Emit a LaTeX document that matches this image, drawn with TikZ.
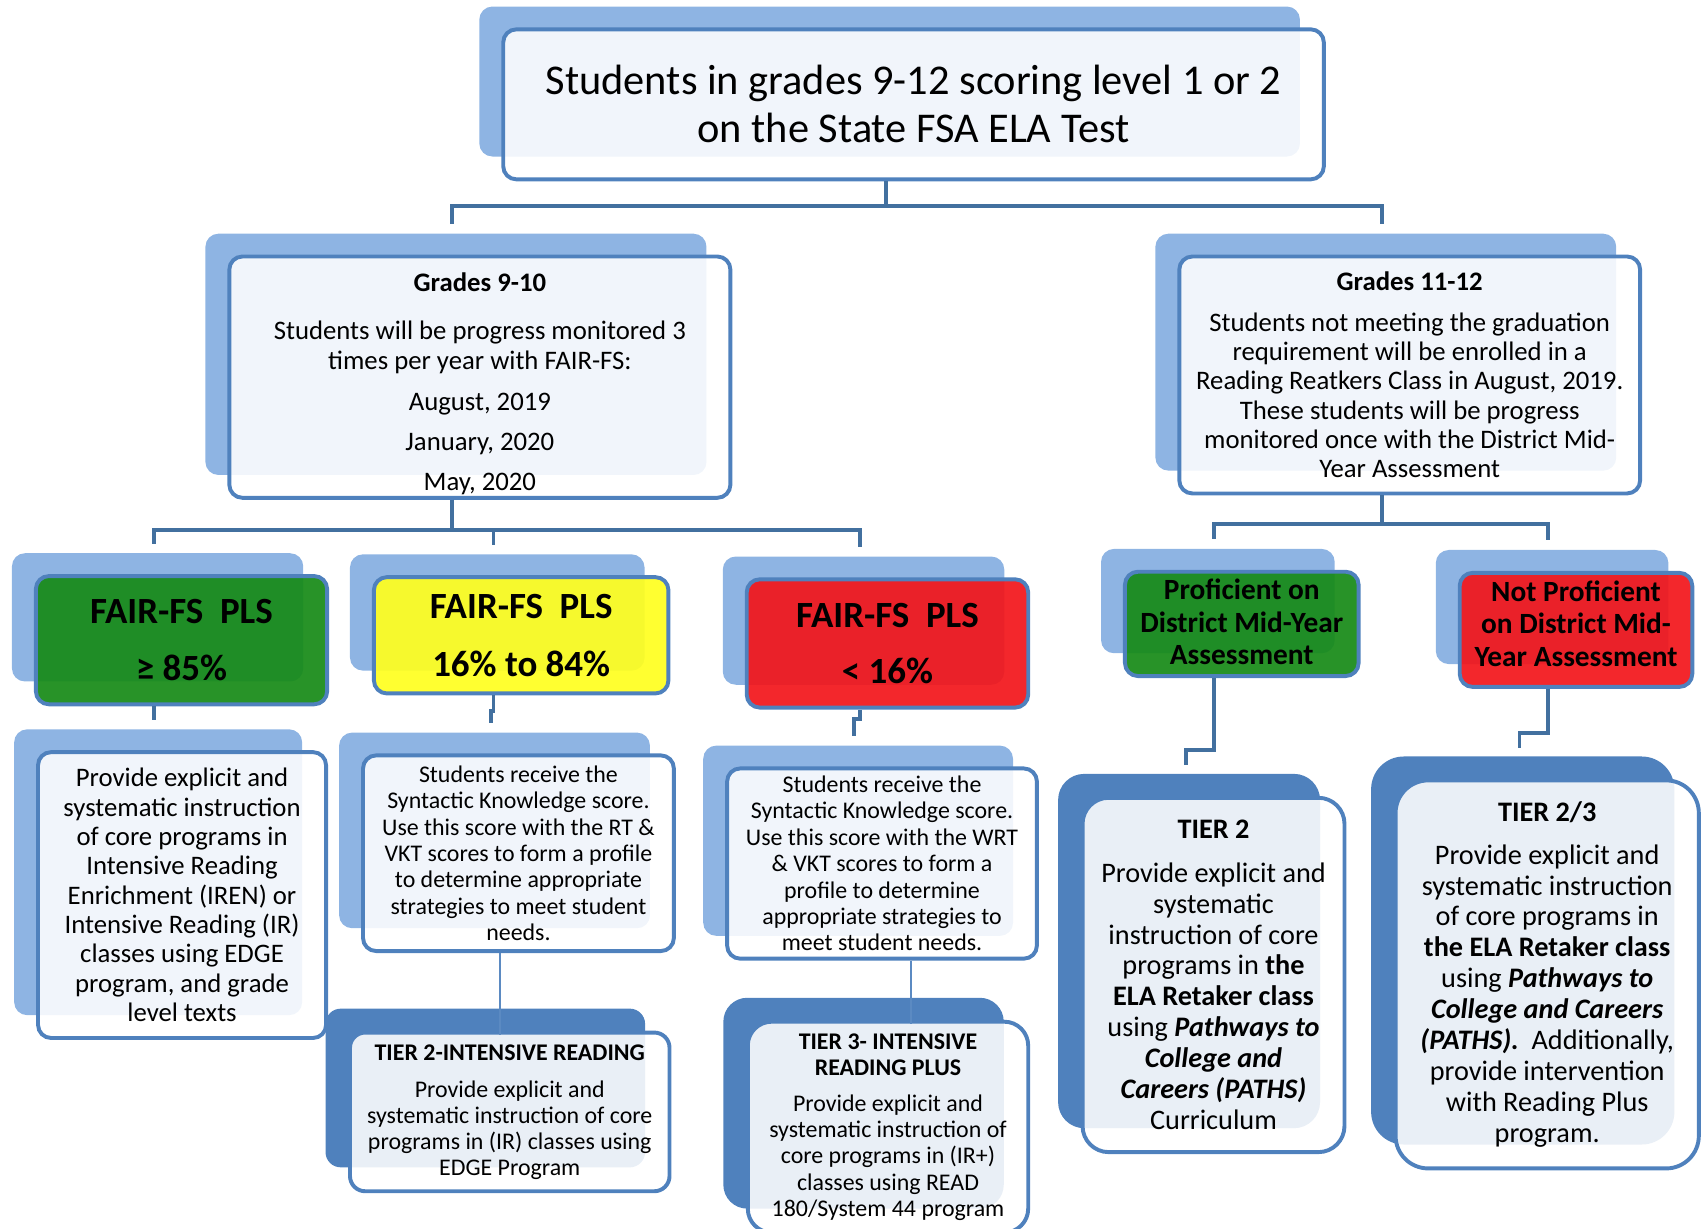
\documentclass[tikz,border=0pt]{standalone}
\usepackage{fontspec}
\setmainfont{Carlito}
\usetikzlibrary{shadows}

\definecolor{shadowlight}{HTML}{8EB4E3}
\definecolor{shadowdark}{HTML}{4F81BD}
\definecolor{boxblue}{HTML}{4F81BD}
\definecolor{linkblue}{HTML}{42709F}
\definecolor{thinblue}{HTML}{5B8AC2}
\definecolor{fairgreen}{HTML}{168A16}
\definecolor{fairyellow}{HTML}{FFFF1E}
\definecolor{fairred}{HTML}{F2151A}

\begin{document}
\begin{tikzpicture}[x=0.5pt, y=-0.5pt,
            basebox/.style={draw=boxblue, line width=1.8pt, rounded corners=6pt, fill=white, fill opacity=0.88,
            text opacity=1, text=black, align=center, inner sep=0pt},
            lightbox/.style={basebox, general shadow={fill=shadowlight, fill opacity=1, shadow xshift=-11pt, shadow yshift=10.5pt}},
            darkbox/.style={basebox, general shadow={fill=shadowdark, fill opacity=1, shadow xshift=-11.25pt, shadow yshift=11pt}},
            fairbox/.style={lightbox, fill=#1, fill opacity=0.92, text opacity=1},
            link/.style={draw=linkblue, line width=1.8pt},
            thinlink/.style={draw=thinblue, line width=0.7pt},
            titlefont/.style={font=\fontsize{19.5}{22}\selectfont},
            body/.style={font=\fontsize{12.3}{13.5}\selectfont},
            small/.style={font=\fontsize{11}{12.15}\selectfont},
            large/.style={font=\fontsize{13}{14.2}\selectfont},
            fairfont/.style={font=\fontsize{17}{20}\selectfont\bfseries},
            midfont/.style={font=\fontsize{13.5}{15}\selectfont\bfseries}]
            \useasboundingbox (0,0) rectangle (1565,1130);

            \node (title) [lightbox, minimum width=377.5pt, minimum height=69pt, titlefont] at (840.5,96)
            {Students in grades 9-12 scoring level 1 or 2\\on the State FSA ELA Test};

            \node (g910) [lightbox, minimum width=230.5pt, minimum height=111pt, body] at (441.5,347)
            {
                \rule{0pt}{15pt}\textbf{Grades 9-10}\\[8.5pt]
                Students will be progress monitored 3\\ times per year with FAIR-FS:\\[5.5pt]
                August, 2019\\[5pt] January, 2020\\[5pt] May, 2020
            };

            \node (g1112) [lightbox, minimum width=212pt, minimum height=109pt, body] at (1297,345)
            {
                \textbf{Grades 11-12}\\[5pt]
                Students not meeting the graduation\\ requirement will be enrolled in a\\
                Reading Reatkers Class in August, 2019.\\ These students will be progress\\
                monitored once with the District Mid-\\ Year Assessment
            };

            \node (fairhi) [fairbox=fairgreen, minimum width=134pt, minimum height=59pt, fairfont] at (167,589)
            {FAIR-FS\ \ PLS\\[6pt] ≥ 85\%};
            \node (fairmid) [fairbox=fairyellow, minimum width=135.5pt, minimum height=53.5pt, fairfont] at (479.5,584.5)
            {FAIR-FS\ \ PLS\\[6.5pt] 16\% to 84\%};
            \node (fairlo) [fairbox=fairred, minimum width=129.5pt, minimum height=59pt, fairfont] at (816.5,592)
            {FAIR-FS\ \ PLS\\[6pt] < 16\%};

            \node (prof) [fairbox=fairgreen, minimum width=107.5pt, minimum height=48pt, midfont] at (1142.5,574)
            {Proficient on\\ District Mid-Year\\ Assessment\rule[-2pt]{0pt}{2pt}};
            \node (notprof) [fairbox=fairred, minimum width=107pt, minimum height=52.5pt, midfont] at (1450,579.5)
            {Not Proficient\\ on District Mid-\\ Year Assessment\rule[-5.7pt]{0pt}{5.7pt}};

            \node (iren) [lightbox, minimum width=132.5pt, minimum height=131.5pt, body] at (167.5,823.5)
            {
                Provide explicit and\\ systematic instruction\\ of core programs in\\ Intensive Reading\\
                Enrichment (IREN) or\\ Intensive Reading (IR)\\ classes using EDGE\\ program, and grade\\ level texts
            };

            \node (skrt) [lightbox, minimum width=143pt, minimum height=90pt, small] at (477,785)
            {
                Students receive the\\ Syntactic Knowledge score.\\ Use this score with the RT \&\\
                VKT scores to form a profile\\ to determine appropriate\\ strategies to meet student\\ needs.
            };

            \node (skwrt) [lightbox, minimum width=142.5pt, minimum height=87.5pt, small] at (811.5,794.5)
            {
                Students receive the\\ Syntactic Knowledge score.\\ Use this score with the WRT\\
                \& VKT scores to form a\\ profile to determine\\ appropriate strategies to\\ meet student needs.
            };

            \node (tiertwoir) [darkbox, rounded corners=7pt, minimum width=147pt, minimum height=73pt, font=\fontsize{11}{12}\selectfont] at (469,1023)
            {
                \textbf{TIER 2-INTENSIVE READING}\\[5pt]
                Provide explicit and\\ systematic instruction of core\\ programs in (IR) classes using\\ EDGE Program
            };

            \node (tierthree) [darkbox, rounded corners=11pt, minimum width=129pt, minimum height=97pt, small] at (817,1037)
            {
                \textbf{TIER 3- INTENSIVE}\\ \textbf{READING PLUS}\\[4.3pt]
                Provide explicit and\\ systematic instruction of\\ core programs in (IR+)\\ classes using READ\\ 180/System 44 program
            };

            \node (tiertwo) [darkbox, rounded corners=12pt, minimum width=120.5pt, minimum height=163pt, large] at (1116.5,897)
            {
                \textbf{TIER 2}\\[5.8pt]
                Provide explicit and\\ systematic\\ instruction of core\\ programs in \textbf{the}\\
                \textbf{ELA Retaker class}\\ using \textbf{\textit{Pathways to}}\\ \textbf{\textit{College and}}\\
                \textbf{\textit{Careers (PATHS)}}\\ Curriculum
            };

            \node (tiertt) [darkbox, rounded corners=15pt, minimum width=139.5pt, minimum height=178.5pt, large] at (1423.5,896.5)
            {
                \textbf{TIER 2/3}\\[5.3pt]
                Provide explicit and\\ systematic instruction\\ of core programs in\\ \textbf{the ELA Retaker class}\\
                using \textbf{\textit{Pathways to}}\\ \textbf{\textit{College and Careers}}\\
                \textbf{\textit{(PATHS).}}\ \ Additionally,\\ provide intervention\\ with Reading Plus\\ program.
            };

            % connectors
            \draw [link] ([xshift=-12.75pt]title.south) -- ++(0,23) -| ([xshift=-12.75pt, yshift=14pt]g910.north);
            \draw [link] ([xshift=-12.75pt]title.south) -- ++(0,23) -| ([xshift=-12.75pt, yshift=14pt]g1112.north);

            \draw [link] ([xshift=-12.75pt]g910.south) -- ++(0,28) -| ([xshift=-12.75pt, yshift=14pt]fairhi.north);
            \draw [link] ([xshift=-12.75pt]g910.south) -- ++(0,28) -| ([xshift=-12.75pt, yshift=14pt]fairmid.north);
            \draw [link] ([xshift=-12.75pt]g910.south) -- ++(0,28) -| ([xshift=-12.75pt, yshift=14pt]fairlo.north);

            \draw [link] ([xshift=-12.75pt]g1112.south) -- ++(0,26) -| ([xshift=-12.75pt, yshift=14pt]prof.north);
            \draw [link] ([xshift=-12.75pt]g1112.south) -- ++(0,26) -| ([xshift=-12.75pt, yshift=14pt]notprof.north);

            \draw [link] ([xshift=-12.75pt]fairhi.south) -- ++(0,8) -| ([xshift=-12.75pt, yshift=14pt]iren.north);
            \draw [link] ([xshift=-12.75pt]fairmid.south) -- ++(0,14) -| ([xshift=-12.75pt, yshift=14pt]skrt.north);
            \draw [link] ([xshift=-12.75pt]fairlo.south) -- ++(0,9) -| ([xshift=-12.75pt, yshift=14pt]skwrt.north);
            \draw [link] ([xshift=-12.75pt]prof.south) -- ++(0,66) -| ([xshift=-12.75pt, yshift=14pt]tiertwo.north);
            \draw [link] ([xshift=-12.75pt]notprof.south) -- ++(0,41) -| ([xshift=-12.75pt, yshift=14pt]tiertt.north);

            \draw [thinlink] ([xshift=-8.5pt]skrt.south) -- ++(0,75);
            \draw [thinlink] ([xshift=13.25pt]skwrt.south) -- ++(0,58);
        \end{tikzpicture}
\end{document}
